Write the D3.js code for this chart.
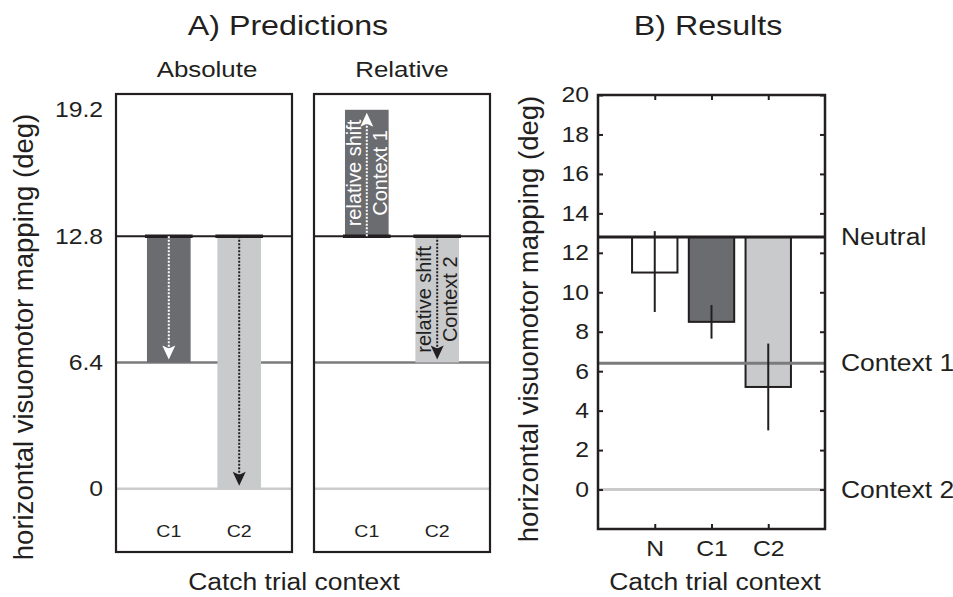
<!DOCTYPE html>
<html>
<head>
<meta charset="utf-8">
<script src="https://cdn.jsdelivr.net/npm/d3@7"></script>
<style>
  body { margin: 0; background: #fff; }
  svg { display: block; font-family: "Liberation Sans", Arial, Helvetica, sans-serif; }
  text { fill: #231f20; }
</style>
</head>
<body>
<svg id="chart" width="953" height="597"></svg>
<script>
// ---- data ----
const predTicks = [0, 6.4, 12.8, 19.2];
const predCats = ['C1', 'C2'];
const neutralValue = 12.8;
const absoluteEnd = [6.4, 0];
const relativeEnd = [19.2, 6.4];
const contextNames = ['Context 1', 'Context 2'];

const refLabels = ['Neutral', 'Context 1', 'Context 2'];
const refValues = [12.8, 6.4, 0];

const resultCats = ['N', 'C1', 'C2'];
const resultMeans = [11.0, 8.5, 5.2];
const resultLow = [9.0, 7.65, 3.0];
const resultHigh = [13.1, 9.35, 7.4];
const resultTicks = [0, 2, 4, 6, 8, 10, 12, 14, 16, 18, 20];

// ---- styles ----
const ink = '#231f20';
const darkFill = '#6b6c6f';
const lightFill = '#c9cacc';
const refColors = [ink, '#7b7b7d', '#cbcbcb'];
const catFills = ['#ffffff', darkFill, lightFill];
const widen = 1.15; // the original figure is a bit stretched sideways

const svg = d3.select('#chart');

// ================= A) Predictions =================
const yA = d3.scaleLinear().domain([-3.2, 20]).range([552, 94]);

const panels = [
  { name: 'Absolute', x0: 116, x1: 292 },
  { name: 'Relative', x0: 314, x1: 490 },
];

svg.append('text')
  .attr('x', 288).attr('y', 35)
  .attr('text-anchor', 'middle')
  .style('font-size', '28px')
  .text('A) Predictions');

function arrowHead(g, x, tipY, dir, color) {
  // dir = 1 pointing down, -1 pointing up
  const len = 14, half = 6.5, notch = 3;
  const p = d3.path();
  p.moveTo(x, tipY);
  p.lineTo(x - half, tipY - dir * len);
  p.lineTo(x, tipY - dir * (len - notch));
  p.lineTo(x + half, tipY - dir * len);
  p.closePath();
  g.append('path').attr('d', p.toString()).attr('fill', color);
}

panels.forEach((panel, pi) => {
  const x = d3.scaleLinear().domain([0.25, 2.75]).range([panel.x0, panel.x1]);
  const g = svg.append('g');
  const bw = 0.31;

  svg.append('text')
    .attr('x', (panel.x0 + panel.x1) / 2 + (pi === 0 ? 3 : 0)).attr('y', 77)
    .attr('text-anchor', 'middle')
    .style('font-size', '22.5px')
    .text(panel.name);

  // reference lines
  g.selectAll('line.ref')
    .data(refValues)
    .enter().append('line')
    .attr('x1', panel.x0).attr('x2', panel.x1)
    .attr('y1', d => yA(d)).attr('y2', d => yA(d))
    .attr('stroke', (d, i) => refColors[i])
    .attr('stroke-width', (d, i) => i === 0 ? 2 : 2.5);

  const ends = pi === 0 ? absoluteEnd : relativeEnd;

  predCats.forEach((c, i) => {
    const cx = x(i + 1);
    const top = yA(Math.max(neutralValue, ends[i]));
    const bottom = yA(Math.min(neutralValue, ends[i]));
    const fill = i === 0 ? darkFill : lightFill;
    const lineColor = i === 0 ? '#ffffff' : ink;

    g.append('rect')
      .attr('x', x(i + 1 - bw)).attr('width', x(i + 1 + bw) - x(i + 1 - bw))
      .attr('y', top).attr('height', bottom - top)
      .attr('fill', fill);

    // black stub on the neutral edge
    g.append('line')
      .attr('x1', x(i + 1 - bw) - 2).attr('x2', x(i + 1 + bw) + 2)
      .attr('y1', yA(neutralValue)).attr('y2', yA(neutralValue))
      .attr('stroke', ink).attr('stroke-width', 3.5);

    // dotted arrow from neutral to the end
    const dir = ends[i] < neutralValue ? 1 : -1;
    const tipY = yA(ends[i]) - dir * 3;
    g.append('line')
      .attr('x1', cx).attr('x2', cx)
      .attr('y1', yA(neutralValue)).attr('y2', tipY - dir * 10)
      .attr('stroke', lineColor)
      .attr('stroke-width', 2)
      .attr('stroke-dasharray', '2,1.5');
    arrowHead(g, cx, tipY, dir, lineColor);

    if (pi === 1) {
      const mid = (top + bottom) / 2;
      const tcol = i === 0 ? '#ffffff' : ink;
      g.append('text')
        .attr('transform', `translate(${cx - 6},${mid}) rotate(-90)`)
        .attr('text-anchor', 'middle')
        .style('font-size', '20px')
        .style('fill', tcol)
        .text('relative shift');
      g.append('text')
        .attr('transform', `translate(${cx + 20},${mid}) rotate(-90)`)
        .attr('text-anchor', 'middle')
        .style('font-size', '20px')
        .style('fill', tcol)
        .text(contextNames[i]);
    }

    g.append('text')
      .attr('x', cx).attr('y', 537)
      .attr('text-anchor', 'middle')
      .style('font-size', '17px')
      .text(c);
  });

  // box
  g.append('rect')
    .attr('x', panel.x0).attr('y', yA(20))
    .attr('width', panel.x1 - panel.x0).attr('height', yA(-3.2) - yA(20))
    .attr('fill', 'none').attr('stroke', ink).attr('stroke-width', 2.2);
});

// left axis labels for A
const axisA = svg.append('g')
  .attr('transform', 'translate(116,0)')
  .call(d3.axisLeft(yA).tickValues(predTicks).tickSize(0).tickPadding(13)
    .tickFormat(d => d === 0 ? '0' : d3.format('.1f')(d)));
axisA.select('.domain').remove();
axisA.selectAll('text')
  .style('font-size', '21.5px')
  .style('font-family', '"Liberation Sans", Arial, sans-serif')
  .attr('fill', ink);

svg.append('text')
  .attr('transform', 'translate(33,337) rotate(-90)')
  .attr('text-anchor', 'middle')
  .style('font-size', '27.5px')
  .text('horizontal visuomotor mapping (deg)');

svg.append('text')
  .attr('x', 294).attr('y', 590)
  .attr('text-anchor', 'middle')
  .style('font-size', '23px')
  .text('Catch trial context');

// ================= B) Results =================
const xB = d3.scaleLinear().domain([0, 4]).range([598, 825]);
const yB = d3.scaleLinear().domain([-2, 20]).range([529, 95]);

svg.append('text')
  .attr('x', 708).attr('y', 35)
  .attr('text-anchor', 'middle')
  .style('font-size', '28px')
  .text('B) Results');

const gB = svg.append('g');

gB.selectAll('rect.bar')
  .data(resultMeans)
  .enter().append('rect')
  .attr('class', 'bar')
  .attr('x', (d, i) => xB(i + 1 - 0.4))
  .attr('width', xB(0.8) - xB(0))
  .attr('y', yB(neutralValue))
  .attr('height', d => yB(d) - yB(neutralValue))
  .attr('fill', (d, i) => catFills[i])
  .attr('stroke', ink)
  .attr('stroke-width', 2);

gB.selectAll('line.ref')
  .data(refValues)
  .enter().append('line')
  .attr('x1', xB(0)).attr('x2', xB(4))
  .attr('y1', d => yB(d)).attr('y2', d => yB(d))
  .attr('stroke', (d, i) => refColors[i])
  .attr('stroke-width', 3);

gB.selectAll('line.err')
  .data(resultMeans)
  .enter().append('line')
  .attr('x1', (d, i) => xB(i + 1)).attr('x2', (d, i) => xB(i + 1))
  .attr('y1', (d, i) => yB(resultHigh[i]))
  .attr('y2', (d, i) => yB(resultLow[i]))
  .attr('stroke', ink)
  .attr('stroke-width', 2);

function styleAxis(sel) {
  sel.select('.domain').remove();
  sel.selectAll('line').attr('stroke', ink).attr('stroke-width', 2);
  sel.selectAll('text')
    .style('font-family', '"Liberation Sans", Arial, sans-serif')
    .attr('fill', ink);
}

gB.append('g')
  .attr('transform', `translate(${xB(0)},0)`)
  .call(d3.axisLeft(yB).tickValues(resultTicks).tickSize(-5).tickPadding(9))
  .call(styleAxis)
  .selectAll('text').style('font-size', '21.5px');

gB.append('g')
  .attr('transform', `translate(${xB(4)},0)`)
  .call(d3.axisRight(yB).tickValues(resultTicks).tickSize(-5).tickFormat(''))
  .call(styleAxis);

gB.append('g')
  .attr('transform', `translate(0,${yB(-2)})`)
  .call(d3.axisBottom(xB).tickValues([1, 2, 3]).tickSize(-5).tickPadding(12)
    .tickFormat(d => resultCats[d - 1]))
  .call(styleAxis)
  .selectAll('text').style('font-size', '21.5px');

gB.append('g')
  .attr('transform', `translate(0,${yB(20)})`)
  .call(d3.axisTop(xB).tickValues([1, 2, 3]).tickSize(-5).tickFormat(''))
  .call(styleAxis);

gB.append('rect')
  .attr('x', xB(0)).attr('y', yB(20))
  .attr('width', xB(4) - xB(0)).attr('height', yB(-2) - yB(20))
  .attr('fill', 'none').attr('stroke', ink).attr('stroke-width', 2.5);

svg.selectAll('text.reflabel')
  .data(refLabels)
  .enter().append('text')
  .attr('class', 'reflabel')
  .attr('x', 841)
  .attr('y', (d, i) => yB(refValues[i]))
  .attr('dy', '0.35em')
  .style('font-size', '23px')
  .text(d => d);

svg.append('text')
  .attr('transform', 'translate(538,319) rotate(-90)')
  .attr('text-anchor', 'middle')
  .style('font-size', '27.5px')
  .text('horizontal visuomotor mapping (deg)');

svg.append('text')
  .attr('x', 715).attr('y', 590)
  .attr('text-anchor', 'middle')
  .style('font-size', '23px')
  .text('Catch trial context');

// widen the upright labels to match the stretched look of the figure
svg.selectAll('text').each(function () {
  const t = d3.select(this);
  const tr = t.attr('transform') || '';
  if (tr.includes('rotate') || !this.textContent) return;
  t.attr('textLength', this.getComputedTextLength() * widen)
    .attr('lengthAdjust', 'spacingAndGlyphs');
});
</script>
</body>
</html>
